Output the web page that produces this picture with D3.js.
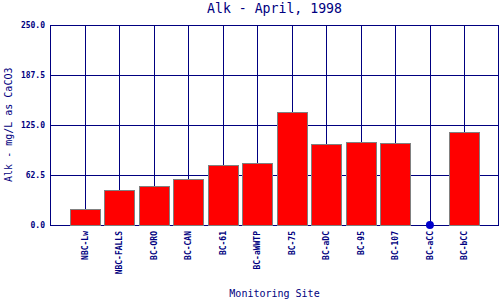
<!DOCTYPE html>
<html><head><meta charset="utf-8">
<script src="https://cdn.jsdelivr.net/npm/d3@7"></script>
<style>body{margin:0;background:#fff}svg{display:block}</style>
</head><body>
<script>
const sites = ["NBC-Lw","NBC-FALLS","BC-ORO","BC-CAN","BC-61","BC-aWWTP","BC-75","BC-aDC","BC-95","BC-107","BC-aCC","BC-bCC"];
const alk = [19.6, 43.3, 48.3, 57, 74.8, 77, 140.5, 100.6, 103, 101.8, 0, 115.6];
const yTicks = [0, 62.5, 125, 187.5, 250];
const title = "Alk - April, 1998";
const yTitle = "Alk - mg/L as CaCO3";
const xTitle = "Monitoring Site";

const W = 500, H = 300;
const L = 50, R = 499, T = 24.5, B = 225;
const navy = "#000080";
const mono = "'DejaVu Sans Mono', 'Liberation Mono', monospace";

const svg = d3.select("body").append("svg").attr("width", W).attr("height", H);
const x = d3.scalePoint().domain(sites).range([L, R]).padding(1);
const y = d3.scaleLinear().domain([0, 250]).range([B, T]);

// grid
const g = svg.append("g").attr("shape-rendering", "crispEdges");
g.selectAll("line.h").data(yTicks).join("line")
  .attr("x1", L).attr("x2", R).attr("y1", d => Math.round(y(d)) + 0.5).attr("y2", d => Math.round(y(d)) + 0.5)
  .attr("stroke", navy);
g.selectAll("line.v").data(sites).join("line")
  .attr("x1", d => Math.round(x(d)) + 0.5).attr("x2", d => Math.round(x(d)) + 0.5)
  .attr("y1", T).attr("y2", B).attr("stroke", navy);
g.append("line").attr("x1", L + 0.5).attr("x2", L + 0.5).attr("y1", T).attr("y2", B + 1).attr("stroke", navy);
g.append("line").attr("x1", R - 0.5).attr("x2", R - 0.5).attr("y1", T).attr("y2", B + 1).attr("stroke", navy);

// bars
const bw = 30;
const data = sites.map((s, i) => ({s, v: alk[i]}));
svg.append("g").attr("shape-rendering", "crispEdges").selectAll("rect").data(data.filter(d => d.v > 0)).join("rect")
  .attr("x", d => Math.round(x(d.s) - bw / 2) + 0.5)
  .attr("y", d => Math.round(y(d.v)) + 0.5)
  .attr("width", bw)
  .attr("height", d => Math.round(y(0)) - Math.round(y(d.v)))
  .attr("fill", "#ff0000").attr("stroke", "#808080").attr("stroke-width", 1);

// zero-value marker
svg.append("g").selectAll("circle").data(data.filter(d => d.v === 0)).join("circle")
  .attr("cx", d => x(d.s)).attr("cy", d => y(d.v)).attr("r", 4).attr("fill", "#0000cc");

// y tick labels
svg.append("g").selectAll("text").data(yTicks).join("text")
  .attr("x", L - 5).attr("y", d => y(d) + 3)
  .attr("text-anchor", "end").attr("font-family", mono).attr("font-size", 8).attr("font-weight", "bold")
  .attr("fill", navy).text(d => d.toFixed(1));

// x tick labels
svg.append("g").selectAll("text").data(sites).join("text")
  .attr("transform", d => `translate(${x(d) + 3},${B + 6}) rotate(-90)`)
  .attr("text-anchor", "end").attr("font-family", mono).attr("font-size", 8).attr("font-weight", "bold")
  .attr("fill", navy).text(d => d);

// titles
svg.append("text").attr("x", (L + R) / 2).attr("y", 13).attr("text-anchor", "middle")
  .attr("font-family", mono).attr("font-size", 13.2).attr("fill", navy).text(title);
svg.append("text").attr("transform", `translate(11.5,${(T + B) / 2}) rotate(-90)`).attr("text-anchor", "middle")
  .attr("font-family", mono).attr("font-size", 10).attr("fill", navy).text(yTitle);
svg.append("text").attr("x", (L + R) / 2).attr("y", 297).attr("text-anchor", "middle")
  .attr("font-family", mono).attr("font-size", 10).attr("fill", navy).text(xTitle);
</script>
</body></html>
